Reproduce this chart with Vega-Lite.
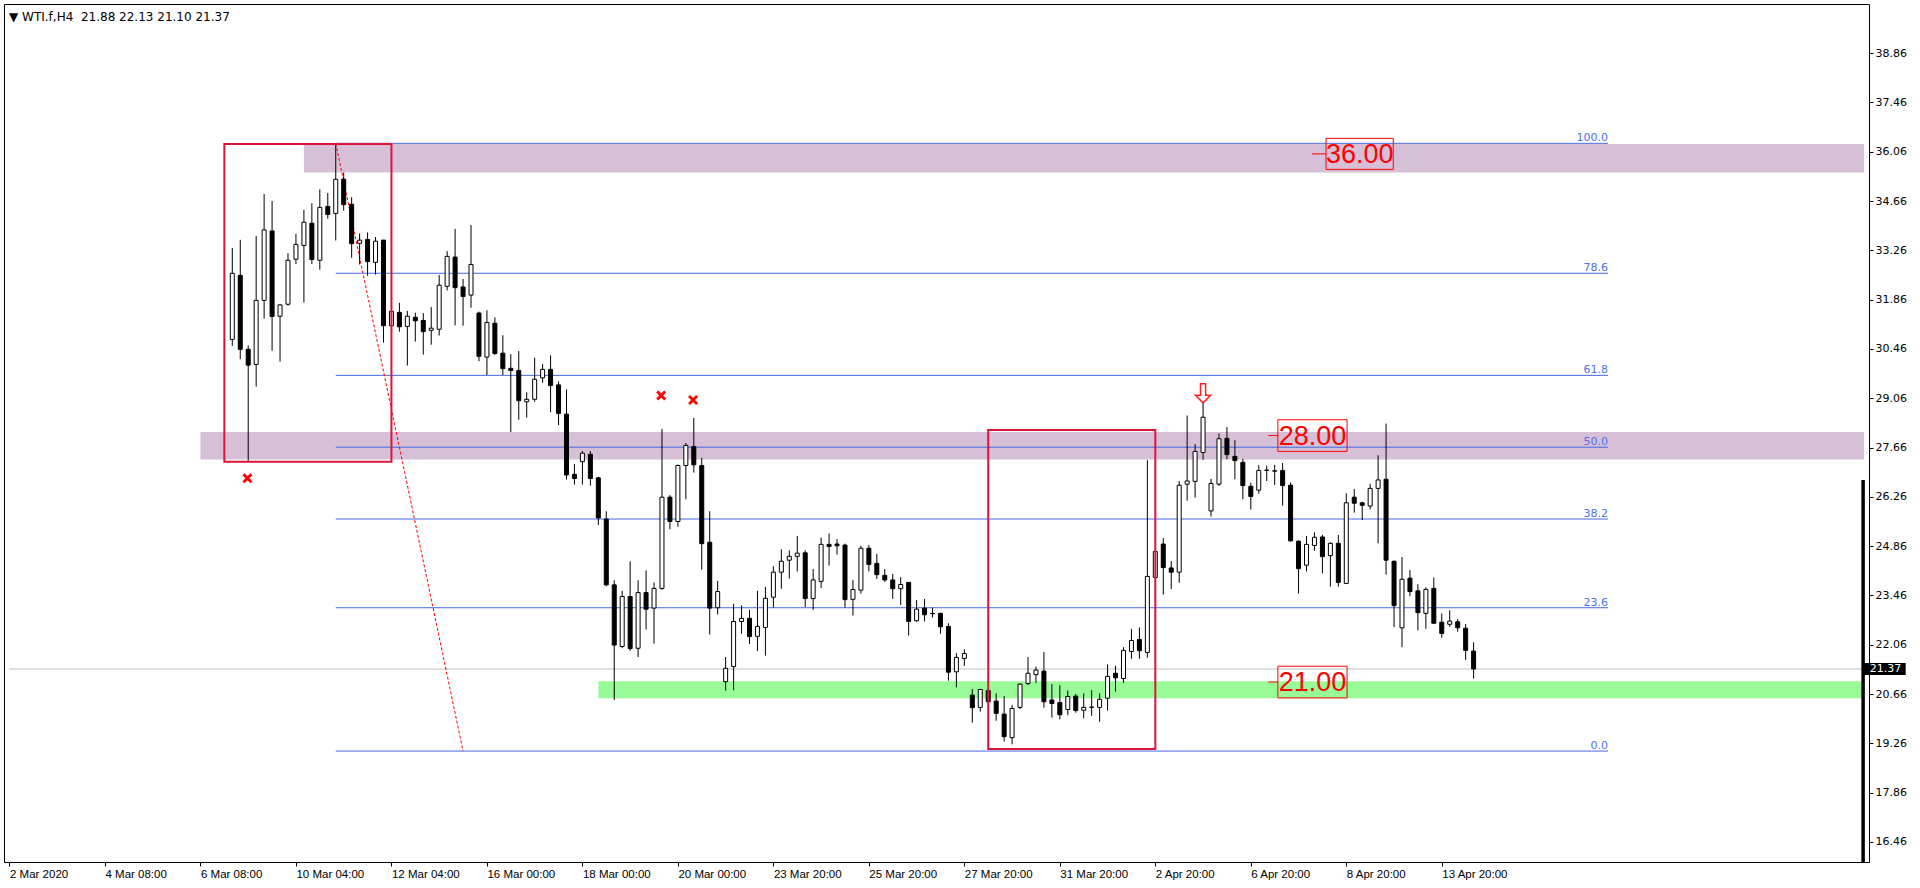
{
  "$schema": "https://vega.github.io/schema/vega-lite/v6.json",
  "autosize": {"type": "none"},
  "width": 1865,
  "height": 858,
  "padding": {"left": 4, "top": 4, "right": 51, "bottom": 26},
  "background": "#ffffff",
  "title": {"text": "▼ WTI.f,H4\u00a0 21.88 22.13 21.10 21.37", "anchor": "start", "frame": "group", "orient": "top", "offset": 0, "dy": 25, "baseline": "middle", "dx": 5, "font": "DejaVu Sans", "fontSize": 12, "fontWeight": "normal", "color": "#000"},
  "resolve": {"axis": {"x": "independent", "y": "independent"}},
  "config": {
    "view": {"stroke": "#000", "strokeWidth": 1},
    "axis": {"domain": false, "grid": false, "ticks": true, "tickColor": "#000", "tickSize": 4, "labelColor": "#000", "title": null}
  },
  "datasets": {
    "candles": [
      {"i":28,"o":30.73,"h":33.33,"l":30.55,"c":32.61},
      {"i":29,"o":32.55,"h":33.56,"l":30.17,"c":30.45},
      {"i":30,"o":30.45,"h":30.56,"l":27.28,"c":30.00},
      {"i":31,"o":30.02,"h":33.67,"l":29.39,"c":31.84},
      {"i":32,"o":31.84,"h":34.86,"l":31.32,"c":33.84},
      {"i":33,"o":33.81,"h":34.66,"l":30.41,"c":31.38},
      {"i":34,"o":31.39,"h":31.74,"l":30.10,"c":31.71},
      {"i":35,"o":31.73,"h":33.18,"l":31.69,"c":32.98},
      {"i":36,"o":33.01,"h":33.73,"l":32.87,"c":33.43},
      {"i":37,"o":33.40,"h":34.41,"l":31.78,"c":34.06},
      {"i":38,"o":34.03,"h":34.60,"l":32.87,"c":33.00},
      {"i":39,"o":32.98,"h":34.99,"l":32.71,"c":34.48},
      {"i":40,"o":34.51,"h":34.89,"l":34.16,"c":34.28},
      {"i":41,"o":34.31,"h":36.29,"l":33.54,"c":35.28},
      {"i":42,"o":35.28,"h":35.47,"l":34.39,"c":34.56},
      {"i":43,"o":34.57,"h":34.77,"l":33.05,"c":33.45},
      {"i":44,"o":33.46,"h":33.74,"l":32.86,"c":33.55},
      {"i":45,"o":33.57,"h":33.77,"l":32.54,"c":32.94},
      {"i":46,"o":32.92,"h":33.64,"l":32.57,"c":33.52},
      {"i":47,"o":33.55,"h":33.56,"l":30.64,"c":31.12},
      {"i":48,"o":31.12,"h":31.53,"l":31.12,"c":31.53},
      {"i":49,"o":31.50,"h":31.77,"l":30.95,"c":31.09},
      {"i":50,"o":31.10,"h":31.54,"l":29.99,"c":31.39},
      {"i":51,"o":31.36,"h":31.49,"l":30.67,"c":31.26},
      {"i":52,"o":31.27,"h":31.48,"l":30.30,"c":30.95},
      {"i":53,"o":30.99,"h":31.65,"l":30.58,"c":31.05},
      {"i":54,"o":31.02,"h":32.56,"l":30.84,"c":32.27},
      {"i":55,"o":32.24,"h":33.24,"l":32.12,"c":33.09},
      {"i":56,"o":33.07,"h":33.87,"l":31.13,"c":32.20},
      {"i":57,"o":32.22,"h":32.45,"l":31.12,"c":31.95},
      {"i":58,"o":31.99,"h":33.98,"l":31.63,"c":32.86},
      {"i":59,"o":31.48,"h":31.52,"l":30.11,"c":30.25},
      {"i":60,"o":30.23,"h":31.56,"l":29.72,"c":31.21},
      {"i":61,"o":31.19,"h":31.36,"l":30.29,"c":30.33},
      {"i":62,"o":30.34,"h":30.85,"l":29.72,"c":29.90},
      {"i":63,"o":29.91,"h":30.31,"l":28.10,"c":29.85},
      {"i":64,"o":29.85,"h":30.40,"l":28.45,"c":28.99},
      {"i":65,"o":28.96,"h":29.23,"l":28.51,"c":29.03},
      {"i":66,"o":29.03,"h":30.21,"l":28.96,"c":29.60},
      {"i":67,"o":29.64,"h":30.03,"l":29.50,"c":29.88},
      {"i":68,"o":29.88,"h":30.28,"l":28.66,"c":29.42},
      {"i":69,"o":29.44,"h":29.54,"l":28.30,"c":28.63},
      {"i":70,"o":28.61,"h":29.31,"l":26.75,"c":26.88},
      {"i":71,"o":26.90,"h":27.19,"l":26.61,"c":26.78},
      {"i":72,"o":27.26,"h":27.56,"l":26.61,"c":27.50},
      {"i":73,"o":27.47,"h":27.56,"l":26.58,"c":26.78},
      {"i":74,"o":26.80,"h":26.83,"l":25.46,"c":25.66},
      {"i":75,"o":25.63,"h":25.85,"l":23.72,"c":23.76},
      {"i":76,"o":23.76,"h":23.89,"l":20.49,"c":22.05},
      {"i":77,"o":22.01,"h":23.59,"l":21.96,"c":23.43},
      {"i":78,"o":23.43,"h":24.43,"l":21.89,"c":21.95},
      {"i":79,"o":21.96,"h":23.89,"l":21.71,"c":23.54},
      {"i":80,"o":23.54,"h":24.17,"l":22.49,"c":23.07},
      {"i":81,"o":23.10,"h":23.83,"l":22.09,"c":23.66},
      {"i":82,"o":23.66,"h":28.19,"l":23.62,"c":26.25},
      {"i":83,"o":26.25,"h":26.31,"l":25.34,"c":25.56},
      {"i":84,"o":25.56,"h":27.18,"l":25.41,"c":27.15},
      {"i":85,"o":27.15,"h":27.79,"l":26.19,"c":27.72},
      {"i":86,"o":27.69,"h":28.50,"l":26.95,"c":27.17},
      {"i":87,"o":27.15,"h":27.37,"l":24.19,"c":24.93},
      {"i":88,"o":24.97,"h":25.85,"l":22.35,"c":23.10},
      {"i":89,"o":23.11,"h":23.87,"l":22.92,"c":23.57},
      {"i":90,"o":21.01,"h":21.71,"l":20.76,"c":21.39},
      {"i":91,"o":21.44,"h":23.22,"l":20.77,"c":22.72},
      {"i":92,"o":22.72,"h":23.18,"l":22.37,"c":22.81},
      {"i":93,"o":22.81,"h":23.05,"l":22.08,"c":22.29},
      {"i":94,"o":22.30,"h":23.59,"l":21.88,"c":22.58},
      {"i":95,"o":22.55,"h":23.70,"l":21.75,"c":23.38},
      {"i":96,"o":23.41,"h":24.29,"l":23.12,"c":24.12},
      {"i":97,"o":24.12,"h":24.77,"l":23.65,"c":24.43},
      {"i":98,"o":24.46,"h":24.74,"l":23.94,"c":24.57},
      {"i":99,"o":24.57,"h":25.15,"l":24.14,"c":24.66},
      {"i":100,"o":24.67,"h":24.74,"l":23.13,"c":23.37},
      {"i":101,"o":23.37,"h":24.21,"l":23.05,"c":23.90},
      {"i":102,"o":23.86,"h":25.10,"l":23.67,"c":24.91},
      {"i":103,"o":24.91,"h":25.22,"l":24.31,"c":24.85},
      {"i":104,"o":24.92,"h":25.06,"l":24.62,"c":24.87},
      {"i":105,"o":24.89,"h":24.93,"l":23.12,"c":23.34},
      {"i":106,"o":23.35,"h":23.90,"l":22.89,"c":23.63},
      {"i":107,"o":23.61,"h":24.87,"l":23.51,"c":24.80},
      {"i":108,"o":24.80,"h":24.89,"l":24.14,"c":24.34},
      {"i":109,"o":24.37,"h":24.64,"l":23.93,"c":24.05},
      {"i":110,"o":24.03,"h":24.21,"l":23.84,"c":23.90},
      {"i":111,"o":23.90,"h":24.07,"l":23.36,"c":23.65},
      {"i":112,"o":23.65,"h":23.98,"l":23.19,"c":23.77},
      {"i":113,"o":23.83,"h":23.83,"l":22.32,"c":22.72},
      {"i":114,"o":22.74,"h":23.33,"l":22.71,"c":23.07},
      {"i":115,"o":23.10,"h":23.36,"l":22.72,"c":22.91},
      {"i":116,"o":22.95,"h":23.11,"l":22.83,"c":22.94},
      {"i":117,"o":22.95,"h":22.97,"l":22.37,"c":22.57},
      {"i":118,"o":22.58,"h":22.67,"l":21.04,"c":21.28},
      {"i":119,"o":21.29,"h":21.82,"l":20.85,"c":21.70},
      {"i":120,"o":21.67,"h":21.93,"l":21.46,"c":21.81},
      {"i":121,"o":20.63,"h":20.80,"l":19.85,"c":20.27},
      {"i":122,"o":20.28,"h":20.80,"l":20.16,"c":20.79},
      {"i":123,"o":20.76,"h":20.80,"l":20.40,"c":20.44},
      {"i":124,"o":20.46,"h":20.68,"l":19.90,"c":20.11},
      {"i":125,"o":20.09,"h":20.60,"l":19.31,"c":19.45},
      {"i":126,"o":19.42,"h":20.35,"l":19.23,"c":20.25},
      {"i":127,"o":20.28,"h":20.96,"l":20.23,"c":20.94},
      {"i":128,"o":20.96,"h":21.71,"l":20.91,"c":21.25},
      {"i":129,"o":21.21,"h":21.44,"l":20.98,"c":21.34},
      {"i":130,"o":21.31,"h":21.85,"l":20.27,"c":20.44},
      {"i":131,"o":20.49,"h":20.94,"l":19.99,"c":20.39},
      {"i":132,"o":20.42,"h":20.91,"l":19.94,"c":20.07},
      {"i":133,"o":20.22,"h":20.76,"l":20.06,"c":20.59},
      {"i":134,"o":20.60,"h":20.66,"l":20.13,"c":20.19},
      {"i":135,"o":20.20,"h":20.68,"l":19.97,"c":20.28},
      {"i":136,"o":20.28,"h":20.77,"l":20.04,"c":20.29},
      {"i":137,"o":20.28,"h":20.68,"l":19.87,"c":20.51},
      {"i":138,"o":20.54,"h":21.50,"l":20.19,"c":21.16},
      {"i":139,"o":21.25,"h":21.46,"l":20.73,"c":21.12},
      {"i":140,"o":21.10,"h":21.99,"l":20.98,"c":21.90},
      {"i":141,"o":21.87,"h":22.51,"l":21.66,"c":22.18},
      {"i":142,"o":22.21,"h":22.55,"l":21.66,"c":21.89},
      {"i":143,"o":21.84,"h":27.30,"l":21.69,"c":24.00},
      {"i":144,"o":23.97,"h":24.71,"l":23.90,"c":24.71},
      {"i":145,"o":24.92,"h":25.09,"l":23.48,"c":24.25},
      {"i":146,"o":24.24,"h":24.44,"l":23.64,"c":24.12},
      {"i":147,"o":24.12,"h":26.71,"l":23.82,"c":26.59},
      {"i":148,"o":26.62,"h":28.57,"l":26.15,"c":26.71},
      {"i":149,"o":26.70,"h":27.76,"l":26.24,"c":27.55},
      {"i":150,"o":27.52,"h":29.01,"l":27.31,"c":28.52},
      {"i":151,"o":25.86,"h":26.77,"l":25.70,"c":26.64},
      {"i":152,"o":26.62,"h":28.06,"l":26.57,"c":27.91},
      {"i":153,"o":27.92,"h":28.24,"l":27.33,"c":27.46},
      {"i":154,"o":27.41,"h":27.87,"l":26.76,"c":27.29},
      {"i":155,"o":27.24,"h":27.34,"l":26.19,"c":26.58},
      {"i":156,"o":26.56,"h":26.66,"l":25.90,"c":26.27},
      {"i":157,"o":26.45,"h":27.16,"l":26.35,"c":27.01},
      {"i":158,"o":27.01,"h":27.15,"l":26.71,"c":27.02},
      {"i":159,"o":27.00,"h":27.17,"l":26.60,"c":26.99},
      {"i":160,"o":27.01,"h":27.22,"l":26.01,"c":26.58},
      {"i":161,"o":26.59,"h":26.67,"l":24.99,"c":25.01},
      {"i":162,"o":25.00,"h":25.02,"l":23.51,"c":24.22},
      {"i":163,"o":24.32,"h":25.15,"l":24.14,"c":24.91},
      {"i":164,"o":24.88,"h":25.25,"l":24.73,"c":25.11},
      {"i":165,"o":25.12,"h":25.18,"l":24.09,"c":24.56},
      {"i":166,"o":24.59,"h":24.97,"l":23.71,"c":24.94},
      {"i":167,"o":24.94,"h":25.18,"l":23.71,"c":23.83},
      {"i":168,"o":23.80,"h":26.36,"l":23.79,"c":26.09},
      {"i":169,"o":26.25,"h":26.48,"l":25.81,"c":26.08},
      {"i":170,"o":26.09,"h":26.12,"l":25.60,"c":26.02},
      {"i":171,"o":26.00,"h":26.63,"l":25.90,"c":26.50},
      {"i":172,"o":26.50,"h":27.44,"l":24.94,"c":26.74},
      {"i":173,"o":26.76,"h":28.34,"l":24.05,"c":24.46},
      {"i":174,"o":24.43,"h":24.45,"l":22.56,"c":23.17},
      {"i":175,"o":22.54,"h":24.55,"l":21.99,"c":23.92},
      {"i":176,"o":23.95,"h":24.18,"l":23.44,"c":23.57},
      {"i":177,"o":23.59,"h":23.78,"l":22.47,"c":22.97},
      {"i":178,"o":22.95,"h":23.69,"l":22.51,"c":23.63},
      {"i":179,"o":23.66,"h":23.97,"l":22.66,"c":22.67},
      {"i":180,"o":22.70,"h":22.95,"l":22.26,"c":22.38},
      {"i":181,"o":22.64,"h":23.04,"l":22.57,"c":22.73},
      {"i":182,"o":22.71,"h":22.79,"l":22.43,"c":22.54},
      {"i":183,"o":22.53,"h":22.65,"l":21.63,"c":21.90},
      {"i":184,"o":21.88,"h":22.13,"l":21.10,"c":21.37}
    ],
    "zones": [
      {"x": 37, "x2": 233.0625, "lo": 35.47, "hi": 36.28, "zone": "resistance"},
      {"x": 24, "x2": 233.0625, "lo": 27.32, "hi": 28.10, "zone": "resistance"},
      {"x": 74, "x2": 233.0625, "lo": 20.54, "hi": 21.02, "zone": "support"}
    ],
    "fib": [
      {"level": "100.0", "p": 36.30},
      {"level": "78.6", "p": 32.61},
      {"level": "61.8", "p": 29.71},
      {"level": "50.0", "p": 27.67},
      {"level": "38.2", "p": 25.63},
      {"level": "23.6", "p": 23.11},
      {"level": "0.0", "p": 19.04}
    ],
    "trend": [{"i": 41, "p": 36.30}, {"i": 57, "p": 19.04}],
    "boxes": [
      {"x": 27, "x2": 48, "lo": 27.26, "hi": 36.28},
      {"x": 123, "x2": 144, "lo": 19.10, "hi": 28.16}
    ],
    "crosses": [{"i": 29.9, "p": 26.79}, {"i": 81.9, "p": 29.14}, {"i": 85.9, "p": 29.01}],
    "arrow": [{"i": 150, "p": 29.20}],
    "levels": [
      {"t": "36.00", "p": 36.00, "lo": 35.56, "hi": 36.44, "x": 165.45, "x2": 173.9, "xm": 169.7, "lx": 163.7},
      {"t": "28.00", "p": 28.00, "lo": 27.55, "hi": 28.45, "x": 159.4, "x2": 168.1, "xm": 163.75, "lx": 158.2},
      {"t": "21.00", "p": 21.00, "lo": 20.55, "hi": 21.45, "x": 159.4, "x2": 168.1, "xm": 163.75, "lx": 158.2}
    ],
    "last": [{"p": 21.37, "lo": 21.20, "hi": 21.54, "x": 233.0625, "x2": 238.3, "tx": 233.8, "t": "21.37", "x0": -0.0625}],
    "edge": [{"x": 232.95, "top": 26.74, "bottom": 15.889}]
  },
  "layer": [
    {
      "data": {"name": "zones"},
      "mark": {"type": "rect"},
      "encoding": {
        "x": {"field": "x", "type": "quantitative", "scale": {"domain": [-0.0625, 233.0625], "nice": false, "zero": false}, "axis": null},
        "x2": {"field": "x2"},
        "y": {"field": "lo", "type": "quantitative", "scale": {"domain": [15.889, 40.257], "nice": false, "zero": false}, "axis": null},
        "y2": {"field": "hi"},
        "fill": {"field": "zone", "type": "nominal", "scale": {"domain": ["resistance", "support"], "range": ["#D8BFD8", "#98FB98"]}, "legend": null}
      }
    },
    {
      "data": {"name": "last"},
      "mark": {"type": "rule", "color": "#C0C0C0", "strokeWidth": 1},
      "encoding": {
        "x": {"field": "x0", "type": "quantitative", "scale": {"domain": [-0.0625, 233.0625], "nice": false, "zero": false}, "axis": null},
        "x2": {"field": "x"},
        "y": {"field": "p", "type": "quantitative", "scale": {"domain": [15.889, 40.257], "nice": false, "zero": false}, "axis": null}
      }
    },
    {
      "data": {"name": "fib"},
      "mark": {"type": "rule", "color": "#4169E1", "strokeWidth": 1},
      "encoding": {
        "x": {"datum": 41, "type": "quantitative", "scale": {"domain": [-0.0625, 233.0625], "nice": false, "zero": false}, "axis": null},
        "x2": {"datum": 200.9},
        "y": {"field": "p", "type": "quantitative", "scale": {"domain": [15.889, 40.257], "nice": false, "zero": false}, "axis": null}
      }
    },
    {
      "data": {"name": "fib"},
      "mark": {"type": "text", "align": "right", "baseline": "alphabetic", "dy": -2, "font": "DejaVu Sans", "fontSize": 11, "color": "#4F72E8"},
      "encoding": {
        "x": {"datum": 200.9, "type": "quantitative", "scale": {"domain": [-0.0625, 233.0625], "nice": false, "zero": false}, "axis": null},
        "y": {"field": "p", "type": "quantitative", "scale": {"domain": [15.889, 40.257], "nice": false, "zero": false}, "axis": null},
        "text": {"field": "level"}
      }
    },
    {
      "data": {"name": "trend"},
      "mark": {"type": "line", "color": "#FF0000", "strokeWidth": 1, "strokeDash": [3, 2]},
      "encoding": {
        "x": {"field": "i", "type": "quantitative", "scale": {"domain": [-0.0625, 233.0625], "nice": false, "zero": false}, "axis": null},
        "y": {"field": "p", "type": "quantitative", "scale": {"domain": [15.889, 40.257], "nice": false, "zero": false}, "axis": null}
      }
    },
    {
      "data": {"name": "candles"},
      "mark": {"type": "rule", "color": "#000", "strokeWidth": 1},
      "encoding": {
        "x": {"field": "i", "type": "quantitative", "scale": {"domain": [-0.0625, 233.0625], "nice": false, "zero": false},
          "axis": {"orient": "bottom", "title": null, "values": [0, 12, 24, 36, 48, 60, 72, 84, 96, 108, 120, 132, 144, 156, 168, 180], "labelAlign": "left", "labelBaseline": "top", "labelPadding": 2, "labelFont": "Liberation Sans", "labelFontSize": 11.5, "labelOverlap": false, "labelFlush": false,
            "labelExpr": "['2 Mar 2020','4 Mar 08:00','6 Mar 08:00','10 Mar 04:00','12 Mar 04:00','16 Mar 00:00','18 Mar 00:00','20 Mar 00:00','23 Mar 20:00','25 Mar 20:00','27 Mar 20:00','31 Mar 20:00','2 Apr 20:00','6 Apr 20:00','8 Apr 20:00','13 Apr 20:00'][round(datum.value / 12)]"}},
        "y": {"field": "l", "type": "quantitative", "scale": {"domain": [15.889, 40.257], "nice": false, "zero": false},
          "axis": {"orient": "right", "title": null, "values": [16.46, 17.86, 19.26, 20.66, 22.06, 23.46, 24.86, 26.26, 27.66, 29.06, 30.46, 31.86, 33.26, 34.66, 36.06, 37.46, 38.86], "format": ".2f", "labelPadding": 2, "labelFont": "DejaVu Sans", "labelFontSize": 11, "labelOverlap": false, "labelFlush": false}},
        "y2": {"field": "h"}
      }
    },
    {
      "data": {"name": "candles"},
      "mark": {"type": "bar", "size": 4, "stroke": "#000", "strokeWidth": 1},
      "encoding": {
        "x": {"field": "i", "type": "quantitative", "scale": {"domain": [-0.0625, 233.0625], "nice": false, "zero": false}, "axis": null},
        "y": {"field": "o", "type": "quantitative", "scale": {"domain": [15.889, 40.257], "nice": false, "zero": false}, "axis": null},
        "y2": {"field": "c"},
        "fill": {"condition": {"test": "datum.c >= datum.o", "value": "#ffffff"}, "value": "#000000"}
      }
    },
    {
      "data": {"name": "boxes"},
      "mark": {"type": "rect", "fill": null, "fillOpacity": 0, "stroke": "#DC143C", "strokeWidth": 2},
      "encoding": {
        "x": {"field": "x", "type": "quantitative", "scale": {"domain": [-0.0625, 233.0625], "nice": false, "zero": false}, "axis": null},
        "x2": {"field": "x2"},
        "y": {"field": "lo", "type": "quantitative", "scale": {"domain": [15.889, 40.257], "nice": false, "zero": false}, "axis": null},
        "y2": {"field": "hi"}
      }
    },
    {
      "data": {"name": "crosses"},
      "mark": {"type": "point", "filled": true, "color": "#FF0000", "opacity": 1, "size": 100, "shape": "M-1,-0.6L-0.6,-1L0,-0.4L0.6,-1L1,-0.6L0.4,0L1,0.6L0.6,1L0,0.4L-0.6,1L-1,0.6L-0.4,0Z"},
      "encoding": {
        "x": {"field": "i", "type": "quantitative", "scale": {"domain": [-0.0625, 233.0625], "nice": false, "zero": false}, "axis": null},
        "y": {"field": "p", "type": "quantitative", "scale": {"domain": [15.889, 40.257], "nice": false, "zero": false}, "axis": null}
      }
    },
    {
      "data": {"name": "arrow"},
      "mark": {"type": "point", "filled": false, "fill": "#ffffff", "fillOpacity": 1, "stroke": "#FF2020", "strokeWidth": 1.5, "opacity": 1, "size": 361, "shape": "M-0.27,-1L0.27,-1L0.27,0.2L0.8,0.2L0,1L-0.8,0.2L-0.27,0.2Z"},
      "encoding": {
        "x": {"field": "i", "type": "quantitative", "scale": {"domain": [-0.0625, 233.0625], "nice": false, "zero": false}, "axis": null},
        "y": {"field": "p", "type": "quantitative", "scale": {"domain": [15.889, 40.257], "nice": false, "zero": false}, "axis": null}
      }
    },
    {
      "data": {"name": "levels"},
      "mark": {"type": "rect", "fill": null, "fillOpacity": 0, "stroke": "#FF0000", "strokeWidth": 1},
      "encoding": {
        "x": {"field": "x", "type": "quantitative", "scale": {"domain": [-0.0625, 233.0625], "nice": false, "zero": false}, "axis": null},
        "x2": {"field": "x2"},
        "y": {"field": "lo", "type": "quantitative", "scale": {"domain": [15.889, 40.257], "nice": false, "zero": false}, "axis": null},
        "y2": {"field": "hi"}
      }
    },
    {
      "data": {"name": "levels"},
      "mark": {"type": "rule", "color": "#FF0000", "strokeWidth": 1},
      "encoding": {
        "x": {"field": "lx", "type": "quantitative", "scale": {"domain": [-0.0625, 233.0625], "nice": false, "zero": false}, "axis": null},
        "x2": {"field": "x"},
        "y": {"field": "p", "type": "quantitative", "scale": {"domain": [15.889, 40.257], "nice": false, "zero": false}, "axis": null}
      }
    },
    {
      "data": {"name": "levels"},
      "mark": {"type": "text", "align": "center", "baseline": "middle", "font": "Liberation Sans", "fontSize": 27, "color": "#FF0000", "dy": 1},
      "encoding": {
        "x": {"field": "xm", "type": "quantitative", "scale": {"domain": [-0.0625, 233.0625], "nice": false, "zero": false}, "axis": null},
        "y": {"field": "p", "type": "quantitative", "scale": {"domain": [15.889, 40.257], "nice": false, "zero": false}, "axis": null},
        "text": {"field": "t"}
      }
    },
    {
      "data": {"name": "edge"},
      "mark": {"type": "rule", "color": "#000", "strokeWidth": 3.5},
      "encoding": {
        "x": {"field": "x", "type": "quantitative", "scale": {"domain": [-0.0625, 233.0625], "nice": false, "zero": false}, "axis": null},
        "y": {"field": "top", "type": "quantitative", "scale": {"domain": [15.889, 40.257], "nice": false, "zero": false}, "axis": null},
        "y2": {"field": "bottom"}
      }
    },
    {
      "data": {"name": "last"},
      "mark": {"type": "rect", "fill": "#000"},
      "encoding": {
        "x": {"field": "x", "type": "quantitative", "scale": {"domain": [-0.0625, 233.0625], "nice": false, "zero": false}, "axis": null},
        "x2": {"field": "x2"},
        "y": {"field": "lo", "type": "quantitative", "scale": {"domain": [15.889, 40.257], "nice": false, "zero": false}, "axis": null},
        "y2": {"field": "hi"}
      }
    },
    {
      "data": {"name": "last"},
      "mark": {"type": "text", "align": "left", "baseline": "middle", "font": "DejaVu Sans", "fontSize": 11, "color": "#ffffff"},
      "encoding": {
        "x": {"field": "tx", "type": "quantitative", "scale": {"domain": [-0.0625, 233.0625], "nice": false, "zero": false}, "axis": null},
        "y": {"field": "p", "type": "quantitative", "scale": {"domain": [15.889, 40.257], "nice": false, "zero": false}, "axis": null},
        "text": {"field": "t"}
      }
    }
  ]
}
